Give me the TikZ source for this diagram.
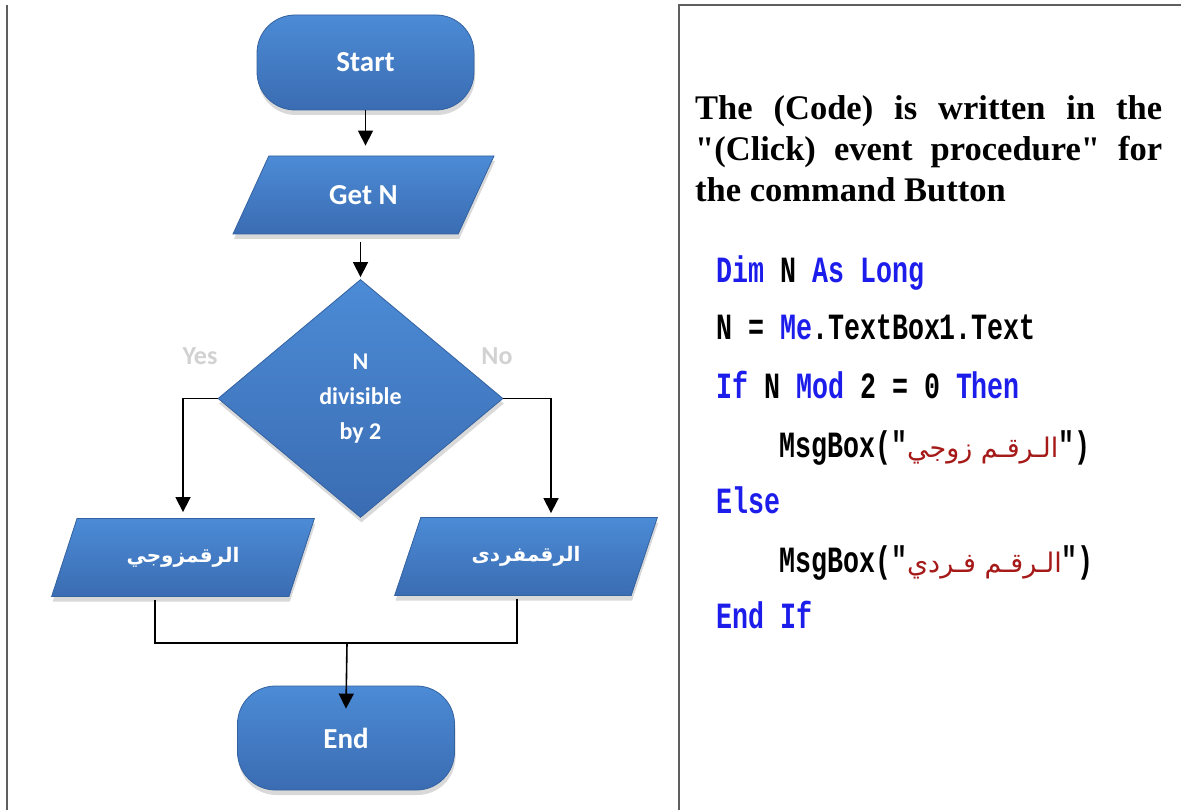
\documentclass[tikz,border=0pt]{standalone}
\usepackage{fontspec}
\setmainfont{Carlito}
\newfontfamily\notefont{Liberation Serif}
\newfontfamily\codefont[FakeStretch=0.72]{Liberation Mono}
\newfontfamily\arabicfont[Script=Arabic]{DejaVu Sans}
\TeXXeTstate=1
\usetikzlibrary{shapes.geometric, shadows, arrows.meta, positioning}

\definecolor{boxtop}{RGB}{76,139,214}
\definecolor{boxbottom}{RGB}{58,108,178}
\definecolor{boxedge}{RGB}{52,98,160}
\definecolor{kwblue}{RGB}{28,28,235}
\definecolor{strred}{RGB}{165,25,25}
\definecolor{framegray}{RGB}{95,95,95}

\newcommand{\kw}[1]{\textcolor{kwblue}{#1}}
\newcommand{\arstr}[1]{\textcolor{strred}{\arabicfont\mdseries\fontsize{27}{30}\selectfont\beginR #1\endR}}

\tikzset{
	flow/.style = {top color=boxtop, bottom color=boxbottom, draw=boxedge, line width=0.8pt,
		text=white, font=\bfseries\fontsize{29}{34}\selectfont,
		drop shadow={shadow xshift=1pt, shadow yshift=-5pt, opacity=0.3}},
	terminal/.style = {flow, rectangle, rounded corners=38pt, minimum width=217pt, minimum height=95pt},
	io/.style = {flow, trapezium, trapezium left angle=56, trapezium right angle=124,
		trapezium stretches=true, minimum width=263pt, minimum height=78pt, inner sep=0pt},
	decision/.style = {flow, diamond, minimum width=285pt, minimum height=238pt, inner sep=0pt,
		align=center, font=\bfseries\fontsize{24}{35}\selectfont},
	branch/.style = {text=gray!35, font=\bfseries\fontsize{26}{30}\selectfont},
	link/.style = {line width=1.6pt},
	arrow/.style = {link, -{Triangle[width=15pt, length=15pt]}},
	frameline/.style = {framegray, line width=2pt},
}

\begin{document}
\begin{tikzpicture}[x = 1pt, y = -1pt]

	\useasboundingbox (0, 0) rectangle (1181, 810);

	% Frame

	\draw [frameline] (7, 5) -- (7, 810);
	\draw [frameline] (1181, 5) -- (679, 5) -- (679, 810);

	% Flowchart

	\node [terminal] (start) at (365.5, 62.5) {Start};
	\node [io] (getn) at (363.5, 195) {Get N};
	\node [decision] (div) at (360.5, 398.5) {N\\divisible\\by 2};
	\node [io, font=\arabicfont\bfseries\fontsize{20}{24}\selectfont] (even) at (183, 557.5) {\beginR الرقمزوجي\endR};
	\node [io, font=\arabicfont\bfseries\fontsize{20}{24}\selectfont] (odd) at (526, 556.5) {\beginR الرقمفردى\endR};
	\node [terminal, minimum height=104pt] (stop) at (346, 738) {End};

	\node [branch] (yes) at (200, 356) {Yes};
	\node [branch] (no) at (497, 356) {No};

	\draw [arrow, shorten >= 10pt] (start.south) -- (start.south |- getn.north);
	\draw [arrow, shorten <= 8pt, shorten >= 2pt] (getn.south -| div.north) -- (div.north);
	\draw [arrow, shorten >= 6pt] (div.west) -| (even.north);
	\draw [arrow, shorten >= 4pt] (div.east) -| ([xshift = 25pt]odd.north);

	\coordinate (join) at (347, 643);
	\draw [link] ([xshift = -28pt, yshift = -3pt]even.south) |- (join) -| ([xshift = -9pt, yshift = -3pt]odd.south);
	\draw [arrow] (join) -- ([yshift = -23pt]stop.north);

	% Note and code

	\node [anchor = north west, inner sep = 0pt, text width = 467pt, align = justify,
		font = \notefont\bfseries\fontsize{34.5}{41}\selectfont] (note) at (695, 95)
		{The (Code) is written in the\linebreak "(Click) event procedure" for\linebreak the command Button};

	\begin{scope}[every node/.style = {anchor = base west, inner sep = 0pt, font = \codefont\bfseries\fontsize{37}{44}\selectfont}]
		\node (code1) at (716, 283) {\kw{Dim} N \kw{As} \kw{Long}};
		\node (code2) at (716, 340) {N = \kw{Me}.TextBox1.Text};
		\node (code3) at (716, 398) {\kw{If} N \kw{Mod} 2 = 0 \kw{Then}};
		\node (code4) at (779, 457) {MsgBox("\arstr{الـرقـم زوجي}")};
		\node (code5) at (716, 513) {\kw{Else}};
		\node (code6) at (779, 572) {MsgBox("\arstr{الـرقـم فـردي}")};
		\node (code7) at (716, 628) {\kw{End} \kw{If}};
	\end{scope}

\end{tikzpicture}
\end{document}
